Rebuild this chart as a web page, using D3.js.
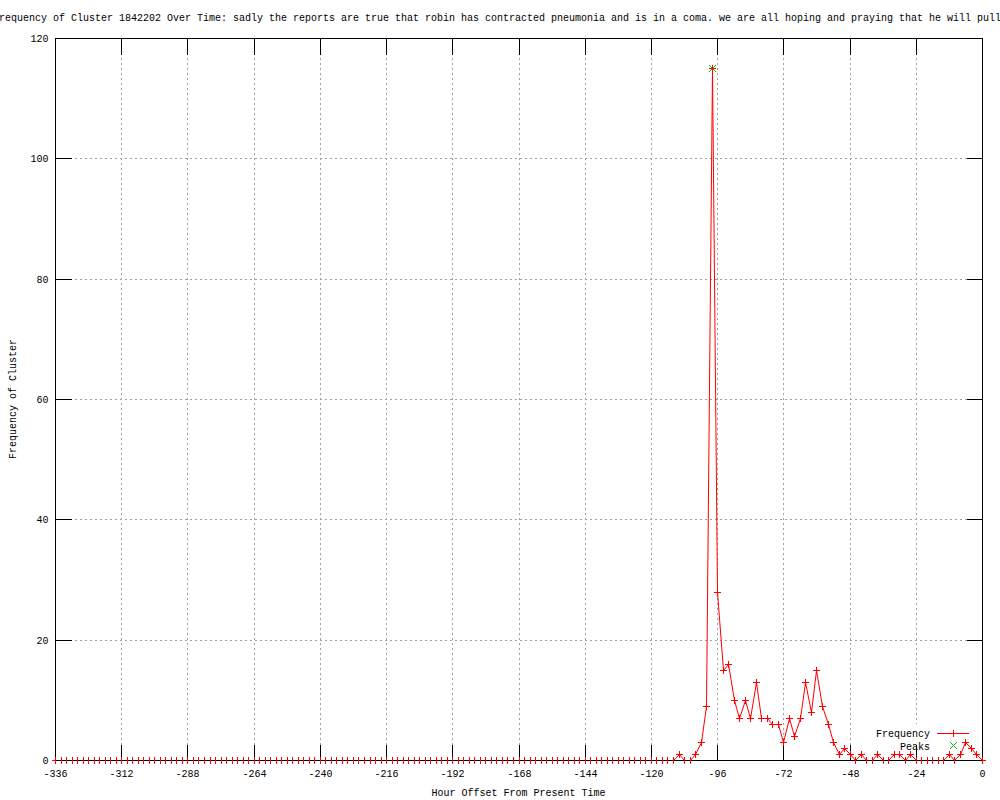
<!DOCTYPE html>
<html>
<head>
<meta charset="utf-8">
<script src="https://cdn.jsdelivr.net/npm/d3@7"></script>
<style>
  html, body { margin: 0; padding: 0; background: #fff; }
  svg { display: block; }
  text { font-family: "Liberation Mono", "DejaVu Sans Mono", monospace; font-size: 10px; fill: #000; }
</style>
</head>
<body>
<svg id="chart" width="1000" height="800"></svg>
<script>
// ---- data ----
const titleText = "Frequency of Cluster 1842202 Over Time: sadly the reports are true that robin has contracted pneumonia and is in a coma. we are all hoping and praying that he will pull";
const xLabel = "Hour Offset From Present Time";
const yLabel = "Frequency of Cluster";
const xTicks = [-336, -312, -288, -264, -240, -216, -192, -168, -144, -120, -96, -72, -48, -24, 0];
const yTicks = [0, 20, 40, 60, 80, 100, 120];
// hours every 2h from -336 to 0
const hours = d3.range(-336, 1, 2);
// frequency per 2-hour step (-336 ... 0)
const frequency = [
  0,0,0,0,0,0,0,0,0,0, 0,0,0,0,0,0,0,0,0,0,
  0,0,0,0,0,0,0,0,0,0, 0,0,0,0,0,0,0,0,0,0,
  0,0,0,0,0,0,0,0,0,0, 0,0,0,0,0,0,0,0,0,0,
  0,0,0,0,0,0,0,0,0,0, 0,0,0,0,0,0,0,0,0,0,
  0,0,0,0,0,0,0,0,0,0, 0,0,0,0,0,0,0,0,0,0,
  0,0,0,0,0,0,0,0,0,0, 0,0,0,
  // -110 ...
  1,0,0,1,3,9,115,28,15,16,
  10,7,10,7,13,7,7,6,6,3,
  7,4,7,13,8,15,9,6,3,1,
  2,1,0,1,0,0,1,0,0,1,
  1,0,1,0,0,0,0,0,0,1,
  0,1,3,2,1,0
];
const peakHours = [-98];
const peakValues = [115];
const legendLabels = ["Frequency", "Peaks"];

// ---- layout ----
const svg = d3.select("#chart");
const L = 55, R = 982, T = 38, B = 760;
const x = d3.scaleLinear().domain([-336, 0]).range([L, R]);
const y = d3.scaleLinear().domain([0, 120]).range([B, T]);
const px = v => Math.round(x(v)) + 0.5;
const py = v => Math.round(y(v)) + 0.5;
const RED = "#ff0000", GREEN = "#00c000";

// grid
const grid = svg.append("g").style("stroke", "#a0a0a0").attr("stroke-dasharray", "2,3")
  .attr("shape-rendering", "crispEdges");
grid.selectAll("line.v").data(xTicks).join("line")
  .attr("x1", d => px(d)).attr("x2", d => px(d)).attr("y1", B).attr("y2", T);
grid.selectAll("line.h").data(yTicks).join("line")
  .attr("y1", d => py(d)).attr("y2", d => py(d)).attr("x1", L).attr("x2", R);

// legend background (covers grid)
svg.append("rect").attr("x", 868).attr("y", 724).attr("width", 108).attr("height", 28).attr("fill", "#fff");

// axes
const axB = svg.append("g").attr("transform", `translate(0,${B + 0.5})`)
  .call(d3.axisBottom(x).tickValues(xTicks).tickSize(-16).tickPadding(9).tickSizeOuter(0).tickFormat(d => String(d)));
const axT = svg.append("g").attr("transform", `translate(0,${T + 0.5})`)
  .call(d3.axisTop(x).tickValues(xTicks).tickSize(-16).tickSizeOuter(0).tickFormat(""));
const axL = svg.append("g").attr("transform", `translate(${L + 0.5},0)`)
  .call(d3.axisLeft(y).tickValues(yTicks).tickSize(-16).tickPadding(7).tickSizeOuter(0));
const axR = svg.append("g").attr("transform", `translate(${R + 0.5},0)`)
  .call(d3.axisRight(y).tickValues(yTicks).tickSize(-16).tickSizeOuter(0).tickFormat(""));
[axB, axT, axL, axR].forEach(a => {
  a.select(".domain").remove();
  a.selectAll("line").style("stroke", "#000").attr("shape-rendering", "crispEdges");
  a.selectAll("text").attr("font-family", "Liberation Mono, DejaVu Sans Mono, monospace").attr("font-size", 10).attr("fill", "#000");
});
axB.selectAll(".tick").attr("transform", d => `translate(${px(d)},0)`);
axT.selectAll(".tick").attr("transform", d => `translate(${px(d)},0)`);
axL.selectAll(".tick").attr("transform", d => `translate(0,${py(d)})`);
axR.selectAll(".tick").attr("transform", d => `translate(0,${py(d)})`);

// data line
const pts = hours.map((h, i) => [h, frequency[i]]);
svg.append("path").datum(pts)
  .attr("fill", "none").style("stroke", RED).attr("stroke-width", 1)
  .attr("d", d3.line().x(d => px(d[0])).y(d => py(d[1])));

// + markers
const plus = "M-3.5,0H3.5M0,-3.5V3.5";
svg.append("g").selectAll("path").data(pts).join("path")
  .attr("transform", d => `translate(${px(d[0])},${py(d[1])})`)
  .attr("d", plus).style("stroke", RED).attr("fill", "none").attr("shape-rendering", "crispEdges");

// border on top
svg.append("rect").attr("x", L + 0.5).attr("y", T + 0.5).attr("width", R - L).attr("height", B - T)
  .attr("fill", "none").style("stroke", "#000").attr("shape-rendering", "crispEdges");

// vertical parts of zero markers cross the baseline
svg.append("g").selectAll("path").data(pts.filter(d => d[1] === 0)).join("path")
  .attr("transform", d => `translate(${px(d[0])},${py(d[1])})`)
  .attr("d", "M0,-3.5V3.5").style("stroke", RED).attr("fill", "none").attr("shape-rendering", "crispEdges");

// peaks (green x)
const xmark = "M-3.5,-3.5L3.5,3.5M-3.5,3.5L3.5,-3.5";
const peakPts = peakHours.map((h, i) => [h, peakValues[i]]);
svg.append("g").selectAll("path").data(peakPts).join("path")
  .attr("transform", d => `translate(${px(d[0])},${py(d[1])})`)
  .attr("d", xmark).style("stroke", GREEN).attr("fill", "none");
svg.append("g").selectAll("path").data(peakPts).join("path")
  .attr("transform", d => `translate(${px(d[0])},${py(d[1])})`)
  .attr("d", plus).style("stroke", RED).attr("fill", "none").attr("shape-rendering", "crispEdges");

// legend
const lg = svg.append("g");
lg.append("text").attr("x", 930).attr("y", 733).attr("dy", "0.35em").attr("text-anchor", "end").text(legendLabels[0]);
lg.append("line").attr("x1", 937).attr("x2", 969).attr("y1", 733.5).attr("y2", 733.5)
  .style("stroke", RED).attr("shape-rendering", "crispEdges");
lg.append("path").attr("transform", "translate(953.5,733.5)").attr("d", plus)
  .style("stroke", RED).attr("fill", "none").attr("shape-rendering", "crispEdges");
lg.append("text").attr("x", 930).attr("y", 746).attr("dy", "0.35em").attr("text-anchor", "end").text(legendLabels[1]);
lg.append("path").attr("transform", "translate(953.5,745.5)").attr("d", xmark)
  .style("stroke", GREEN).attr("fill", "none");

// title and axis labels
svg.append("text").attr("x", 497).attr("y", 21).attr("text-anchor", "middle").text(titleText);
svg.append("text").attr("x", (L + R) / 2).attr("y", 796).attr("text-anchor", "middle").text(xLabel);
svg.append("text").attr("transform", `translate(16,${(T + B) / 2}) rotate(-90)`).attr("text-anchor", "middle").text(yLabel);
</script>
</body>
</html>
